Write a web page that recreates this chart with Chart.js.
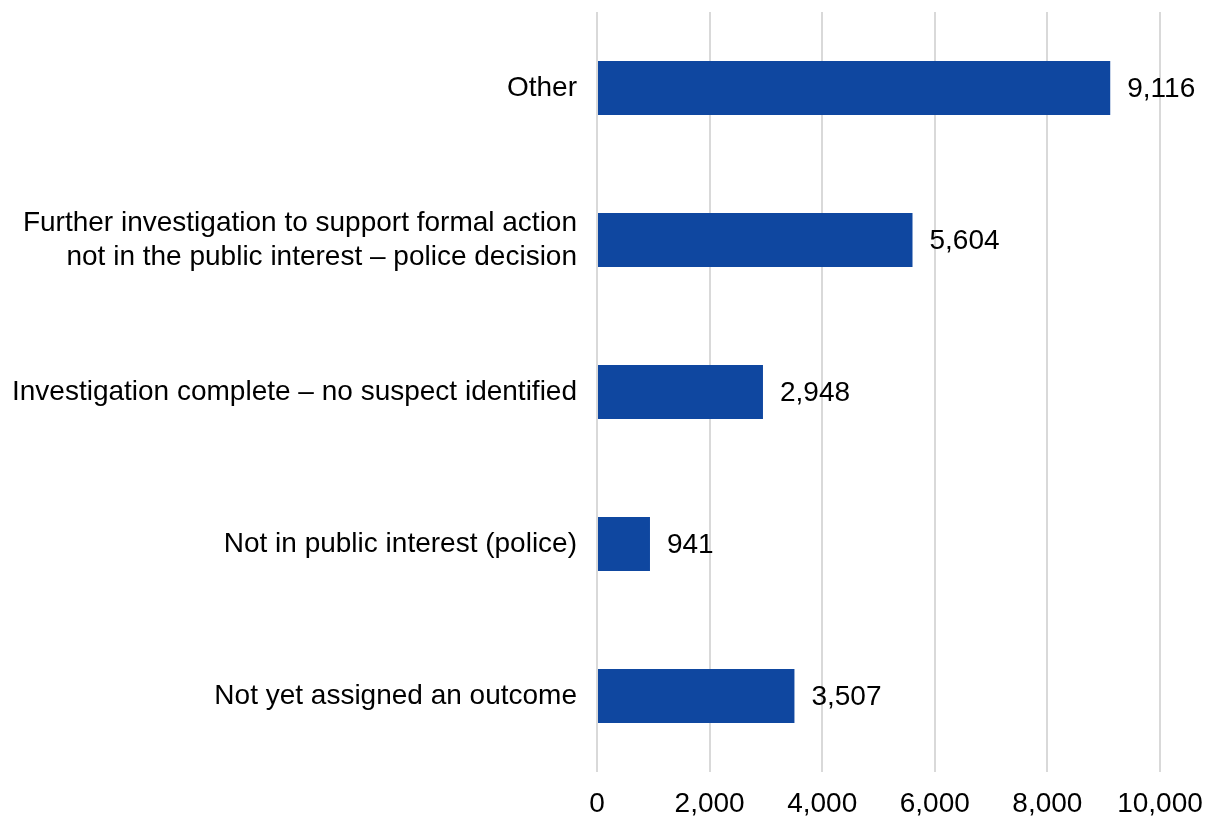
<!DOCTYPE html>
<html>
<head>
<meta charset="utf-8">
<script src="https://cdn.jsdelivr.net/npm/chart.js@4"></script>
<style>
  html, body { margin: 0; padding: 0; background: #fff; }
  #wrap { width: 1218px; height: 818px; }
</style>
</head>
<body>
<div id="wrap"><canvas id="chart"></canvas></div>
<script>
const categories = [
  "Other",
  ["Further investigation to support formal action", "not in the public interest \u2013 police decision"],
  "Investigation complete \u2013 no suspect identified",
  "Not in public interest (police)",
  "Not yet assigned an outcome"
];
const counts = [9116, 5604, 2948, 941, 3507];
const xTicks = [0, 2000, 4000, 6000, 8000, 10000];

const FONT = "'Liberation Sans', Arial, sans-serif";

// value labels to the right of each bar
const barValues = {
  id: 'barValues',
  afterDatasetsDraw(chart) {
    const ctx = chart.ctx;
    const meta = chart.getDatasetMeta(0);
    ctx.save();
    ctx.font = "28px " + FONT;
    ctx.fillStyle = "#000";
    ctx.textAlign = "left";
    ctx.textBaseline = "middle";
    meta.data.forEach((bar, i) => {
      ctx.fillText(counts[i].toLocaleString('en-GB'), bar.x + 17, bar.y + 1);
    });
    ctx.restore();
  }
};

new Chart(document.getElementById('chart'), {
  type: 'bar',
  data: {
    labels: categories,
    datasets: [{
      data: counts,
      backgroundColor: '#0f47a0',
      categoryPercentage: 1,
      barPercentage: 0.355
    }]
  },
  options: {
    indexAxis: 'y',
    responsive: true,
    maintainAspectRatio: false,
    animation: false,
    layout: { padding: { top: 12, right: 58, bottom: 0, left: 0 } },
    plugins: {
      legend: { display: false },
      tooltip: { enabled: false }
    },
    scales: {
      x: {
        min: 0,
        max: 10000,
        afterBuildTicks: (scale) => { scale.ticks = xTicks.map(v => ({ value: v })); },
        afterFit: (scale) => { scale.height = 46; },
        grid: { color: '#d9d9d9', lineWidth: 2, drawTicks: false },
        border: { display: false },
        ticks: {
          color: '#000',
          padding: 15,
          font: { family: FONT, size: 28 },
          callback: (v) => Number(v).toLocaleString('en-GB')
        }
      },
      y: {
        grid: { display: false },
        border: { display: false },
        afterFit: (scale) => {
          scale.width = 597;
          scale.paddingTop = 0;
          scale.paddingBottom = 0;
        },
        ticks: {
          color: '#000',
          padding: 12,
          font: { family: FONT, size: 28 }
        }
      }
    }
  },
  plugins: [barValues]
});
</script>
</body>
</html>
